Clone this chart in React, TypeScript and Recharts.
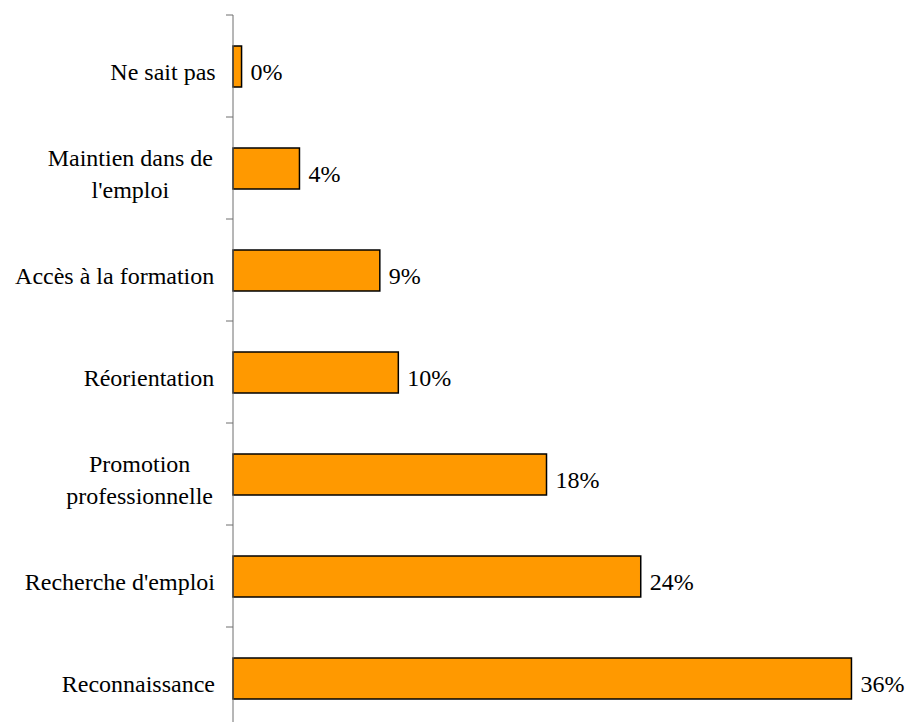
import React from "react";
import { BarChart, Bar, XAxis, YAxis, LabelList } from "recharts";

const categories = [
  "Ne sait pas",
  "Maintien dans de\nl'emploi",
  "Accès à la formation",
  "Réorientation",
  "Promotion\nprofessionnelle",
  "Recherche d'emploi",
  "Reconnaissance",
];
const values = [0.5, 3.88, 8.57, 9.65, 18.3, 23.8, 36.1];
const valueLabels = ["0%", "4%", "9%", "10%", "18%", "24%", "36%"];
const AXIS_MAX = 39.4;

const data = categories.map((c, i) => ({ name: c, value: values[i], label: valueLabels[i] }));

const WIDTH = 908;
const HEIGHT = 740;
const MARGIN = { top: 15, right: 0, bottom: 11, left: 0 };
const Y_AXIS_WIDTH = 233;
const BAND = (HEIGHT - MARGIN.top - MARGIN.bottom) / categories.length;
const FONT = "Liberation Serif";
const FONT_SIZE = 24;
const AXIS_COLOR = "#6e6e6e";

// Times-metric advance widths (per 1000 em) used to centre multi-line labels
const CHAR_W: Record<string, number> = {
  a: 444, b: 500, c: 444, d: 500, e: 444, f: 333, g: 500, h: 500, i: 278, j: 278,
  k: 500, l: 278, m: 778, n: 500, o: 500, p: 500, q: 500, r: 333, s: 389, t: 278,
  u: 500, v: 500, w: 722, x: 500, y: 500, z: 444, " ": 250, "'": 180, M: 889, P: 556,
};
function measure(t: string): number {
  let w = 0;
  for (const ch of t) w += CHAR_W[ch] ?? 500;
  return (w / 1000) * FONT_SIZE;
}

const CategoryTick = (props: any) => {
  const { x, y, payload, index } = props;
  const lines = String(payload.value).split("\n");
  const maxW = Math.max(...lines.map(measure));
  const cx = x - 20 - maxW / 2;
  const lineH = 32;
  const base = y + 14 - ((lines.length - 1) * lineH) / 2;
  return (
    <g>
      <line x1={x - 7} x2={x} y1={y - BAND / 2} y2={y - BAND / 2} stroke={AXIS_COLOR} strokeWidth={1} />
      {index === categories.length - 1 && (
        <line x1={x - 7} x2={x} y1={y + BAND / 2} y2={y + BAND / 2} stroke={AXIS_COLOR} strokeWidth={1} />
      )}
      {lines.map((l, i) => (
        <text
          key={i}
          x={cx}
          y={base + i * lineH}
          textAnchor="middle"
          fontFamily={FONT}
          fontSize={FONT_SIZE}
          fill="#000"
        >
          {l}
        </text>
      ))}
    </g>
  );
};

const ValueLabel = (props: any) => {
  const { x, y, width, height, value } = props;
  return (
    <text
      x={x + width + 9}
      y={y + height / 2 + 13}
      textAnchor="start"
      fontFamily={FONT}
      fontSize={FONT_SIZE}
      fill="#000"
    >
      {value}
    </text>
  );
};

export default function App() {
  return (
    <div
      style={{
        position: "absolute",
        left: 0,
        top: 0,
        width: WIDTH,
        height: 722,
        overflow: "hidden",
        background: "#fff",
      }}
    >
      <BarChart width={WIDTH} height={HEIGHT} data={data} layout="vertical" margin={MARGIN}>
        <XAxis type="number" domain={[0, AXIS_MAX]} hide />
        <YAxis
          type="category"
          dataKey="name"
          width={Y_AXIS_WIDTH}
          tickLine={false}
          tickSize={0}
          tickMargin={0}
          axisLine={{ stroke: AXIS_COLOR, strokeWidth: 1 }}
          tick={<CategoryTick />}
          interval={0}
        />
        <Bar
          dataKey="value"
          fill="#FF9900"
          stroke="#000"
          strokeWidth={1.5}
          barSize={41}
          isAnimationActive={false}
        >
          <LabelList dataKey="label" content={<ValueLabel />} />
        </Bar>
      </BarChart>
    </div>
  );
}
